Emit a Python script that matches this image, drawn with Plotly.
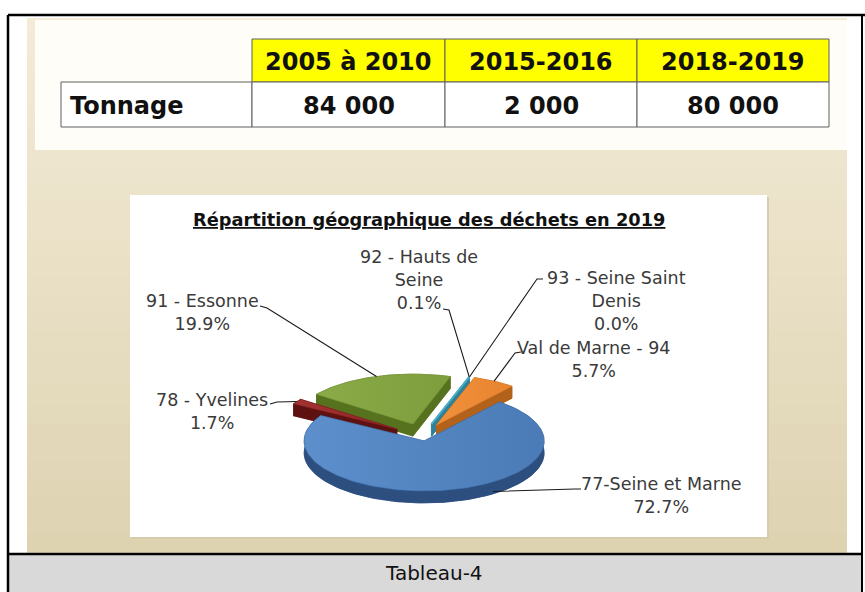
import numpy as np
import plotly.graph_objects as go

# ---------------- data ----------------
periods = ["2005 à 2010", "2015-2016", "2018-2019"]
row_title = "Tonnage"
tonnage = ["84 000", "2 000", "80 000"]

chart_title = "Répartition géographique des déchets en 2019"
departments = ["77-Seine et Marne", "78 - Yvelines", "91 - Essonne",
               "92 - Hauts de<br>Seine", "93 - Seine Saint<br>Denis", "Val de Marne - 94"]
shares = [72.7, 1.7, 19.9, 0.1, 0.0, 5.7]
caption = "Tableau-4"

# ---------------- canvas ----------------
W, H = 865, 592
fig = go.Figure()
shapes = []
ann = []


def rect(x0, y0, x1, y1, fill, line=None, lw=0, layer="below"):
    shapes.append(dict(type="rect", xref="x", yref="y", x0=x0, y0=y0, x1=x1, y1=y1,
                       fillcolor=fill, line=dict(color=line or fill, width=lw), layer=layer))


def seg(x0, y0, x1, y1, color="black", width=2):
    shapes.append(dict(type="line", xref="x", yref="y", x0=x0, y0=y0, x1=x1, y1=y1,
                       line=dict(color=color, width=width), layer="above"))


# beige gradient background of the picture
top_c = np.array([0xf4, 0xec, 0xd9])
bot_c = np.array([0xde, 0xd3, 0xb1])
ys = np.linspace(18, 552, 30)
for y0, y1 in zip(ys[:-1], ys[1:]):
    t = ((y0 + y1) / 2 - 18) / (552 - 18)
    c = top_c + (bot_c - top_c) * t
    rect(27, y0, 847, y1 + 0.8, "rgb(%d,%d,%d)" % tuple(int(v) for v in c))

# cream panel behind the table
rect(35, 20, 847, 150, "#fffdf7")
# white chart box
rect(132, 197, 769, 539, "#d6ccab")
rect(130, 195, 767, 537, "#ffffff")

# caption band
rect(9, 555, 862, 592, "#d9d9d9")

# outer frame
seg(8, 15, 865, 15, width=2.5)
seg(8, 15, 8, 592, width=2.5)
seg(862, 15, 862, 592, width=2)
seg(8, 554, 862, 554, width=2.5)

# ---------------- table ----------------
col_edges = [61, 252, 445, 637, 829]
hdr_y0, hdr_y1, row_y1 = 39, 82, 127
tfont = dict(family="DejaVu Sans", size=24, color="#111111", weight="bold")
for j, p in enumerate(periods):
    x0, x1 = col_edges[j + 1], col_edges[j + 2]
    rect(x0, hdr_y0, x1, hdr_y1, "#ffff00", "#5f5f5f", 1)
    ann.append(dict(x=(x0 + x1) / 2, y=(hdr_y0 + hdr_y1) / 2 + 1, text=p, font=tfont))
rect(col_edges[0], hdr_y1, col_edges[1], row_y1, "#ffffff", "#5f5f5f", 1)
ann.append(dict(x=col_edges[0] + 7, y=(hdr_y1 + row_y1) / 2 + 1, text=row_title, font=tfont,
                xanchor="left"))
for j, v in enumerate(tonnage):
    x0, x1 = col_edges[j + 1], col_edges[j + 2]
    rect(x0, hdr_y1, x1, row_y1, "#ffffff", "#5f5f5f", 1)
    ann.append(dict(x=(x0 + x1) / 2, y=(hdr_y1 + row_y1) / 2 + 1, text=v, font=tfont))

# ---------------- 3D exploded pie ----------------
CX, CY, RX, RY, DEPTH = 422.0, 436.0, 120.0, 50.0, 12.0
START = 39.0  # clockwise from 12 o'clock, where the first slice begins
pulls = [0.10, 0.25, 0.25, 0.25, 0.25, 0.25]
tops = ["#4a7bb6", "#8f2424", "#7e9d3d", "#4bacc6", "#4bacc6", "#e8832e"]
tops_light = ["#5d8fcc", "#a33333", "#8aab48", "#5cbcd6", "#5cbcd6", "#f0913c"]
sides = ["#2c4f80", "#5d1111", "#57721f", "#2e8198", "#2e8198", "#b3621c"]


def ell(ox, oy, th, dz=0.0):
    r = np.radians(th)
    return ox + RX * np.sin(r), oy - RY * np.cos(r) + dz


def poly(xs, ys, color, lw=0.6, lc=None, grad=None):
    xs = list(xs) + [xs[0]]
    ys = list(ys) + [ys[0]]
    kw = {}
    if grad is not None:
        kw["fillgradient"] = dict(type="horizontal", colorscale=[[0, grad], [1, color]])
    fig.add_trace(go.Scatter(x=xs, y=ys, mode="lines", fill="toself", fillcolor=color,
                             line=dict(color=lc or color, width=lw), hoverinfo="skip",
                             showlegend=False, **kw))


total = sum(shares)
slices = []
a = START
for i, v in enumerate(shares):
    span = v / total * 360.0
    a0, a1 = a, a + span
    a = a1
    mid = (a0 + a1) / 2
    ox = CX + RX * pulls[i] * np.sin(np.radians(mid))
    oy = CY - RY * pulls[i] * np.cos(np.radians(mid))
    slices.append(dict(i=i, a0=a0, a1=a1, span=span, mid=mid, ox=ox, oy=oy))

for s in sorted(slices, key=lambda s: -np.cos(np.radians(s["mid"]))):
    if s["span"] <= 1e-9:
        continue
    i, ox, oy = s["i"], s["ox"], s["oy"]
    th = np.linspace(s["a0"], s["a1"], max(2, int(s["span"] / 1.5) + 2))
    ax, ay = ell(ox, oy, th)
    bx, by = ell(ox, oy, th, DEPTH)
    side = sides[i]
    # bottom face
    poly([ox] + list(bx), [oy + DEPTH] + list(by), side)
    # radial faces
    for te in (s["a0"], s["a1"]):
        px, py = ell(ox, oy, te)
        poly([ox, px, px, ox], [oy, py, py + DEPTH, oy + DEPTH], side)
    # outer curved face
    poly(list(ax) + list(bx[::-1]), list(ay) + list(by[::-1]), side)
    # top face
    lw = 2.0 if s["span"] < 2 else 0.6
    poly([ox] + list(ax), [oy] + list(ay), tops[i], lw=lw, grad=tops_light[i])

# ---------------- labels & leader lines ----------------
label_pos = {0: (661, 495), 1: (212, 411), 2: (202, 312), 3: (419, 280), 4: (616, 301), 5: (593, 359)}
leader = {0: ((581, 489), (575, 489)), 1: ((270, 404), (277, 402)), 2: ((260, 306), (267, 308)),
          3: ((443, 309), (449, 310)), 4: ((543, 279), (537, 279)), 5: ((521, 352), (515, 353))}
lfont = dict(family="DejaVu Sans", size=17.5, color="#3a3a3a")
for s in slices:
    i = s["i"]
    text = departments[i] + "<br>" + f"{shares[i]:.1f}%"
    lx, ly = label_pos[i]
    ann.append(dict(x=lx, y=ly, text=text, font=lfont, align="center"))
    if i == 0:
        ex, ey = ell(s["ox"], s["oy"], 145.0, DEPTH * 0.8)
    else:
        ex, ey = ell(s["ox"], s["oy"], s["mid"])
    (sx, sy), (kx, ky) = leader[i]
    fig.add_trace(go.Scatter(x=[sx, kx, ex], y=[sy, ky, ey], mode="lines",
                             line=dict(color="#1a1a1a", width=1.1), hoverinfo="skip",
                             showlegend=False))

# chart title
ann.append(dict(x=429, y=219, text="<u>" + chart_title + "</u>",
                font=dict(family="DejaVu Sans", size=17.8, color="#111111", weight="bold")))
# caption
ann.append(dict(x=434, y=573, text=caption, font=dict(family="DejaVu Sans", size=20, color="#111111")))

for a_ in ann:
    a_.setdefault("xref", "x")
    a_.setdefault("yref", "y")
    a_.setdefault("showarrow", False)
    a_.setdefault("xanchor", "center")
    a_.setdefault("yanchor", "middle")

fig.update_layout(
    width=W, height=H, margin=dict(l=0, r=0, t=0, b=0),
    paper_bgcolor="white", plot_bgcolor="white",
    xaxis=dict(range=[0, W], visible=False, fixedrange=True),
    yaxis=dict(range=[H, 0], visible=False, fixedrange=True),
    shapes=shapes, annotations=ann, showlegend=False,
)
fig.write_html("out.html", config={"displayModeBar": False},
               post_script="document.body.style.margin='0';document.body.style.overflow='hidden';")
